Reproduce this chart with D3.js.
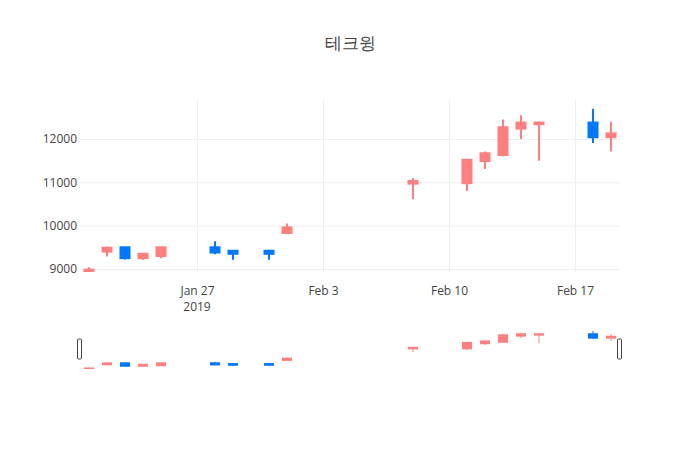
<!DOCTYPE html>
<html>
<head>
<meta charset="utf-8">
<script src="https://cdn.jsdelivr.net/npm/d3@7"></script>
<style>
  body { margin: 0; background: #fff; }
  text { font-family: "Open Sans", sans-serif; fill: #444; }
</style>
</head>
<body>
<svg></svg>
<script>
const w = 700
const h = 450

// trading days and OHLC prices
const dates = ['2019-01-21','2019-01-22','2019-01-23','2019-01-24','2019-01-25',
  '2019-01-28','2019-01-29','2019-01-31','2019-02-01','2019-02-08',
  '2019-02-11','2019-02-12','2019-02-13','2019-02-14','2019-02-15',
  '2019-02-18','2019-02-19']
const opens  = [8950, 9400, 9500, 9250, 9300, 9500, 9420, 9420, 9830, 10970, 10980, 11490, 11630, 12240, 12340, 12380, 12040]
const highs  = [9040, 9520, 9500, 9360, 9510, 9640, 9430, 9430, 10050, 11100, 11520, 11710, 12450, 12550, 12400, 12700, 12400]
const lows   = [8900, 9290, 9220, 9210, 9250, 9340, 9210, 9210, 9830, 10610, 10800, 11310, 11600, 12000, 11500, 11910, 11710]
const closes = [8985, 9490, 9250, 9350, 9500, 9380, 9350, 9350, 9960, 11030, 11520, 11670, 12270, 12380, 12380, 12040, 12130]

const yTicks = [9000, 10000, 11000, 12000]
const xTickDates = ['2019-01-27', '2019-02-03', '2019-02-10', '2019-02-17']
const xTickLabels = ['Jan 27', 'Feb 3', 'Feb 10', 'Feb 17']
const title = '테크윙'

const upColor = '#ff7f7f'
const downColor = '#0077ff'

const data = dates.map((d, i) => ({
  date: new Date(d + 'T00:00:00Z'),
  open: opens[i], high: highs[i], low: lows[i], close: closes[i]
}))

const svg = d3.select('svg')
  .attr('width', w)
  .attr('height', h)

const margin = {top: 100, left: 80, right: 80}
const plotBottom = 272
const slider = {top: 329, bottom: 369}

const xScale = d3.scaleUtc()
  .domain([new Date('2019-01-20T12:00:00Z'), new Date('2019-02-19T12:00:00Z')])
  .range([margin.left, w - margin.right])

const yScale = d3.scaleLinear()
  .domain([8930, 12900])
  .range([plotBottom, margin.top])

const ySlider = d3.scaleLinear()
  .domain([8930, 12900])
  .range([slider.bottom, slider.top])

// title
svg.append('text')
  .attr('x', w / 2)
  .attr('y', 49)
  .attr('text-anchor', 'middle')
  .style('font-size', '17px')
  .text(title)

// grid
const yAxis = d3.axisLeft(yScale)
  .tickValues(yTicks)
  .tickSize(-(w - margin.left - margin.right))
  .tickPadding(3)
  .tickFormat(d3.format('d'))

const yAxisG = svg.append('g')
  .attr('transform', `translate(${margin.left},0)`)
  .call(yAxis)
yAxisG.select('.domain').remove()
yAxisG.selectAll('line').attr('stroke', '#eee')
yAxisG.selectAll('text').style('font-size', '12px').attr('fill', '#444')

const tickDates = xTickDates.map(d => new Date(d + 'T00:00:00Z'))
const xAxis = d3.axisBottom(xScale)
  .tickValues(tickDates)
  .tickSize(-(plotBottom - margin.top))
  .tickPadding(14)
  .tickFormat((d, i) => xTickLabels[i])

const xAxisG = svg.append('g')
  .attr('transform', `translate(0,${plotBottom})`)
  .call(xAxis)
xAxisG.select('.domain').remove()
xAxisG.selectAll('line').attr('stroke', '#eee')
xAxisG.selectAll('text').style('font-size', '12px').attr('fill', '#444')

// year under first tick
xAxisG.append('text')
  .attr('x', xScale(tickDates[0]))
  .attr('y', 39)
  .attr('text-anchor', 'middle')
  .style('font-size', '12px')
  .text('2019')

svg.append('clipPath').attr('id', 'clip')
  .append('rect')
  .attr('x', margin.left).attr('y', margin.top)
  .attr('width', w - margin.left - margin.right)
  .attr('height', plotBottom - margin.top)

const drawCandles = (g, y, bodyW, wickW) => {
  const c = g.selectAll('g.candle').data(data)
    .enter().append('g')
    .attr('class', 'candle')
    .attr('fill', d => d.close >= d.open ? upColor : downColor)
    .attr('stroke', d => d.close >= d.open ? upColor : downColor)

  c.append('line')
    .attr('x1', d => xScale(d.date))
    .attr('x2', d => xScale(d.date))
    .attr('y1', d => y(d.high))
    .attr('y2', d => y(d.low))
    .attr('stroke-width', wickW)

  c.append('rect')
    .attr('x', d => xScale(d.date) - bodyW / 2)
    .attr('width', bodyW)
    .attr('y', d => y(Math.max(d.open, d.close)) - 1)
    .attr('height', d => Math.abs(y(d.open) - y(d.close)) + 2)
    .attr('stroke', 'none')
}

const mainG = svg.append('g').attr('clip-path', 'url(#clip)')
drawCandles(mainG, yScale, 11, 2)

// range slider
svg.append('clipPath').attr('id', 'clip2')
  .append('rect')
  .attr('x', margin.left).attr('y', slider.top)
  .attr('width', w - margin.left - margin.right)
  .attr('height', slider.bottom - slider.top)

const sliderG = svg.append('g').attr('clip-path', 'url(#clip2)')
drawCandles(sliderG, ySlider, 10, 1)

const handleY = (slider.top + slider.bottom) / 2 - 10
;[margin.left - 2.5, w - margin.right - 2.5].forEach(x => {
  svg.append('rect')
    .attr('x', x)
    .attr('y', handleY)
    .attr('width', 4)
    .attr('height', 20)
    .attr('rx', 1)
    .attr('fill', '#fff')
    .attr('stroke', '#444')
    .attr('stroke-width', 1)
})
</script>
</body>
</html>
